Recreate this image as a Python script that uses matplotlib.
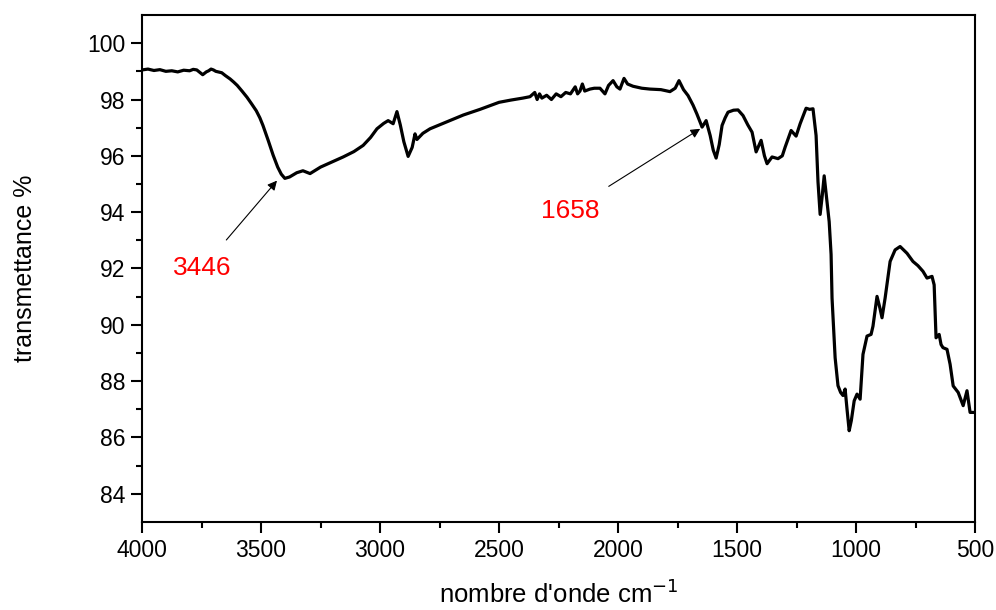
import matplotlib.pyplot as plt
import numpy as np

plt.rcParams['font.family'] = ['Liberation Sans', 'DejaVu Sans']

# spectre IR : nombre d'onde (cm-1) / transmittance (%)
wavenumber = [4000, 3975, 3950, 3925, 3900, 3875, 3850, 3825, 3800, 3785, 3770, 3755, 3745,
              3730, 3720, 3710, 3700, 3690, 3680, 3665, 3650, 3630, 3615,
              3600, 3580, 3559, 3540, 3520, 3505, 3492, 3470, 3449, 3430, 3415, 3400, 3380,
              3350, 3324, 3294, 3250, 3210, 3155, 3110, 3071, 3040, 3013, 2985, 2966, 2945,
              2929, 2915, 2900, 2882, 2865, 2853, 2845, 2820, 2790, 2750, 2706, 2650, 2580,
              2500, 2450, 2400, 2370, 2350, 2340, 2330, 2320, 2300, 2280, 2260, 2240, 2220,
              2200, 2180, 2170, 2160, 2150, 2140, 2118, 2100, 2076, 2055, 2040, 2021,
              2005, 1992, 1975, 1960, 1937, 1900, 1866, 1820, 1782, 1760, 1744, 1725,
              1706, 1685, 1669, 1647, 1630, 1613, 1600, 1588, 1575, 1563, 1550, 1538, 1515, 1496,
              1475, 1455, 1437, 1420, 1399, 1385, 1374, 1353, 1328, 1310, 1298, 1273, 1252,
              1235, 1210, 1195, 1181, 1168, 1160, 1151, 1142, 1134, 1125, 1113, 1105,
              1101, 1088, 1076, 1065, 1055, 1046, 1038, 1029, 1020, 1008, 996, 983,
              971, 954, 937, 929, 912, 900, 891, 878, 857, 836, 815, 786,
              761, 740, 719, 702, 681, 672, 664, 651, 643, 635, 618, 605,
              592, 571, 550, 534, 521, 500]
transmittance = [99.05, 99.08, 99.03, 99.06, 99.0, 99.02, 98.98, 99.04, 99.02, 99.07, 99.05, 98.95, 98.88,
                 98.98, 99.02, 99.08, 99.05, 99.0, 98.98, 98.95, 98.85, 98.73, 98.62,
                 98.5, 98.3, 98.08, 97.85, 97.6, 97.35, 97.08, 96.55, 96.02, 95.6, 95.35, 95.2, 95.25,
                 95.4, 95.47, 95.37, 95.6, 95.75, 95.96, 96.15, 96.37, 96.65, 96.96, 97.15, 97.25, 97.14,
                 97.57, 97.1, 96.5, 95.98, 96.3, 96.78, 96.58, 96.8, 96.96, 97.1, 97.25, 97.45, 97.65,
                 97.9, 97.98, 98.05, 98.1, 98.25, 98.0, 98.2, 98.05, 98.15, 98.0, 98.2, 98.1, 98.25,
                 98.2, 98.45, 98.2, 98.3, 98.55, 98.3, 98.37, 98.4, 98.4, 98.2, 98.5, 98.67,
                 98.45, 98.37, 98.75, 98.55, 98.47, 98.4, 98.37, 98.35, 98.28, 98.4, 98.67, 98.35,
                 98.14, 97.8, 97.49, 97.02, 97.25, 96.72, 96.2, 95.92, 96.4, 97.08, 97.35, 97.55, 97.62, 97.63,
                 97.43, 97.1, 96.84, 96.14, 96.55, 96.0, 95.72, 95.96, 95.9, 96.0, 96.31, 96.9, 96.7,
                 97.14, 97.69, 97.65, 97.67, 96.72, 95.08, 93.92, 94.6, 95.29, 94.6, 93.66, 92.5,
                 90.95, 88.83, 87.84, 87.6, 87.49, 87.72, 87.0, 86.24, 86.6, 87.3, 87.54, 87.36,
                 88.95, 89.6, 89.66, 89.95, 91.01, 90.6, 90.25, 90.95, 92.25, 92.66, 92.78, 92.54,
                 92.25, 92.1, 91.9, 91.66, 91.72, 91.42, 89.54, 89.66, 89.3, 89.19, 89.13, 88.6,
                 87.83, 87.6, 87.13, 87.66, 86.89, 86.89]

# bandes annotées : (étiquette, pointe de la flèche, position du texte)
bands = [("3446", (3433, 95.12), (3748, 92.0)),
         ("1658", (1655, 96.96), (2202, 94.05))]

fig = plt.figure(figsize=(9.96, 6.1), dpi=100)
ax = fig.add_axes([0.1426, 0.1443, 0.8364, 0.8311])

ax.plot(wavenumber, transmittance, color='black', lw=2.3, solid_joinstyle='round')

for label, tip, pos in bands:
    ax.annotate(label, xy=tip, xytext=pos, color='red', fontsize=19,
                ha='center', va='center',
                arrowprops=dict(arrowstyle='-|>', color='black', lw=0.8,
                                mutation_scale=14, shrinkA=13, shrinkB=0))

ax.set_xlim(4000, 500)
ax.set_ylim(83, 101)
ax.set_xticks(np.arange(4000, 499, -500))
ax.set_xticks(np.arange(3750, 500, -500), minor=True)
ax.set_yticks(np.arange(84, 101, 2))
ax.set_yticks(np.arange(85, 101, 2), minor=True)

for s in ax.spines.values():
    s.set_linewidth(1.5)
ax.tick_params(which='major', direction='out', length=8, width=1.5, labelsize=16.5, pad=4)
ax.tick_params(which='minor', direction='out', length=4.5, width=1.5)

ax.set_xlabel("nombre d'onde cm$^{-1}$", fontsize=18.5, labelpad=13)
ax.set_ylabel("transmettance %", fontsize=18, labelpad=36)

fig.savefig("out.png", dpi=100)
